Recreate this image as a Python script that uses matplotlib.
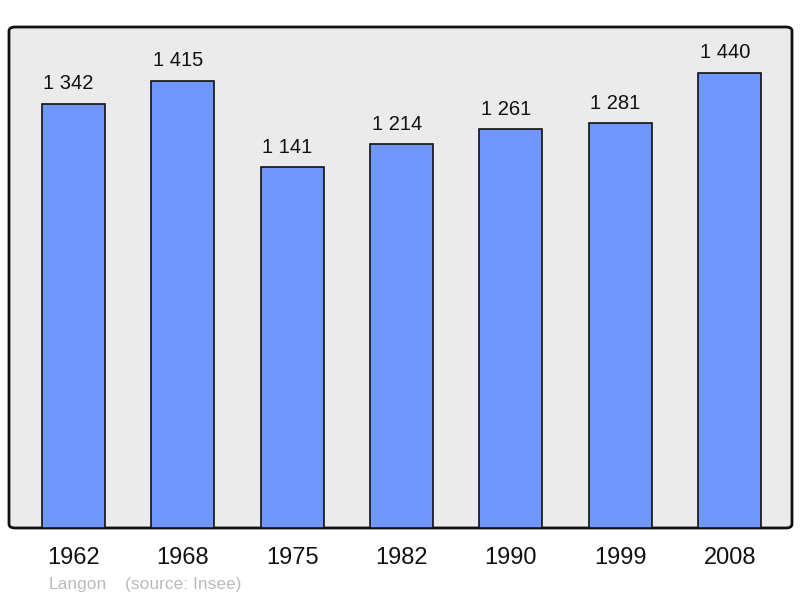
import matplotlib
matplotlib.use("Agg")
import matplotlib.pyplot as plt
from matplotlib.patches import FancyBboxPatch

years = ["1962", "1968", "1975", "1982", "1990", "1999", "2008"]
population = [1342, 1415, 1141, 1214, 1261, 1281, 1440]
value_labels = ["1 342", "1 415", "1 141", "1 214", "1 261", "1 281", "1 440"]

plt.rcParams['font.family'] = ['Liberation Sans', 'DejaVu Sans']

fig = plt.figure(figsize=(8, 5.98), dpi=100)
ax = fig.add_axes([9/800, 70/598, 783/800, 501/598])
ax.set_facecolor('none')
ax.set_xlim(-0.59, 6.57)
ax.set_ylim(0, 1585)

bg = FancyBboxPatch((0, 0), 1, 1, boxstyle="round,pad=0,rounding_size=0.008",
                    transform=ax.transAxes, facecolor='#ebebeb', edgecolor='#111111',
                    linewidth=2, zorder=0, clip_on=False)
ax.add_patch(bg)

x = list(range(len(years)))
ax.bar(x, population, width=0.576, color='#7096ff', edgecolor='#111111', linewidth=1.2, zorder=2)
for xi, v, lab in zip(x, population, value_labels):
    ax.annotate(lab, (xi, v), xytext=(-3.5, 7.5), textcoords='offset points',
                ha='center', va='bottom', fontsize=14.5, color='#111111')

for s in ax.spines.values():
    s.set_visible(False)
ax.set_xticks(x)
ax.set_xticklabels(years, fontsize=17)
ax.tick_params(axis='x', length=0, pad=13.5, colors='#111111')
ax.set_yticks([])

fig.text(49/800, 1 - 584/598, "Langon", color='#bbbbbb', fontsize=12.5, va='center', ha='left')
fig.text(125/800, 1 - 584/598, "(source: Insee)", color='#bbbbbb', fontsize=12.5, va='center', ha='left')

fig.savefig("out.png", dpi=100)
